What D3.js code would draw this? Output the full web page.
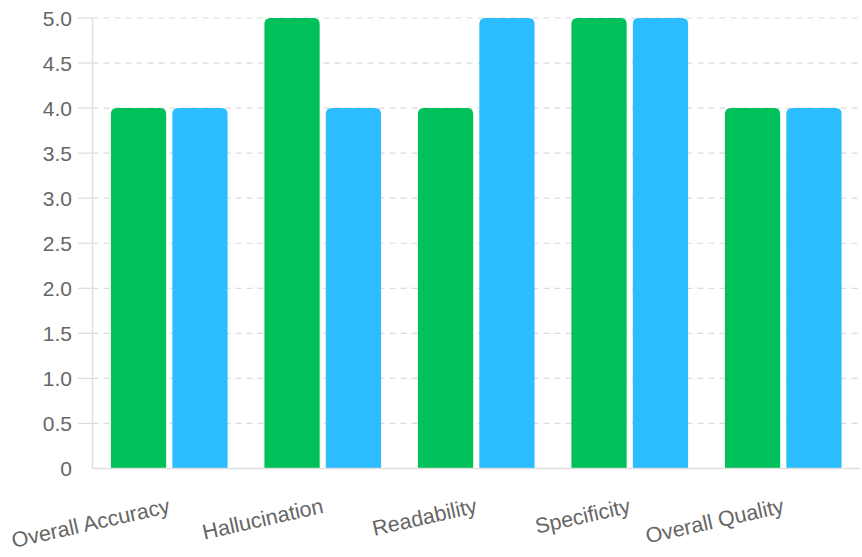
<!DOCTYPE html>
<html><head><meta charset="utf-8">
<script src="https://cdn.jsdelivr.net/npm/d3@7"></script>
<style>body{margin:0;background:#fff}svg{display:block}text{font-family:"Liberation Sans",Arial,Helvetica,sans-serif}</style>
</head><body><svg id="c" width="862" height="557"></svg>
<script>
const categories = ["Overall Accuracy","Hallucination","Readability","Specificity","Overall Quality"];
const seriesA = [4,5,4,5,4];
const seriesB = [4,4,5,5,4];
const seriesNames = ["A","B"];
const colors = ["#00c159","#2bbdff"];
const yTicks = [0,0.5,1,1.5,2,2.5,3,3.5,4,4.5,5];

const svg = d3.select("#c");
const pL = 92.5, pR = 860, pT = 18, pB = 468.5;
const x = d3.scaleBand().domain(categories).range([pL,pR]).paddingInner(0).paddingOuter(0);
const y = d3.scaleLinear().domain([0,5]).range([pB,pT]);

// grid
const g = svg.append("g");
yTicks.forEach(t=>{
  if(t===0) return;
  const yy = y(t);
  g.append("line").attr("x1",pL).attr("x2",pR).attr("y1",yy).attr("y2",yy)
   .attr("stroke","#dcdcdc").attr("stroke-width",1.2).attr("stroke-dasharray","6,5");
  g.append("line").attr("x1",78).attr("x2",pL).attr("y1",yy).attr("y2",yy)
   .attr("stroke","#dcdcdc").attr("stroke-width",1.2);
});
// y labels
svg.append("g").selectAll("text").data(yTicks).join("text")
  .attr("x",72).attr("y",d=>y(d)).attr("dy","0.36em").attr("text-anchor","end")
  .attr("fill","#666").attr("font-size","21px").text(d=>d===0?"0":d.toFixed(1));

// bars
const catW = x.bandwidth(), groupW = catW*0.8, slot = groupW/2, bw = slot*0.9, r = 6;
function barPath(x0,w,yt,yb){
  return `M${x0},${yb}V${yt+r}Q${x0},${yt} ${x0+r},${yt}H${x0+w-r}Q${x0+w},${yt} ${x0+w},${yt+r}V${yb}Z`;
}
[seriesA,seriesB].forEach((s,si)=>{
  svg.append("g").selectAll("path").data(s).join("path")
    .attr("d",(d,i)=>{
      const cx = x(categories[i]) + (catW-groupW)/2 + si*slot + (slot-bw)/2;
      return barPath(cx,bw,y(d),y(0));
    })
    .attr("fill",colors[si]);
});

// axes lines
svg.append("line").attr("x1",pL).attr("x2",pL).attr("y1",pT).attr("y2",pB).attr("stroke","#e0e0e0").attr("stroke-width",1.5);
svg.append("line").attr("x1",pL).attr("x2",pR).attr("y1",pB).attr("y2",pB).attr("stroke","#e0e0e0").attr("stroke-width",1.5);

// x labels
svg.append("g").selectAll("text").data(categories).join("text")
  .attr("transform",d=>`translate(${x(d)+x.bandwidth()/2},505) rotate(-12.7)`)
  .attr("dy","0.36em").attr("text-anchor","end")
  .attr("fill","#666").attr("font-size","21.5px").text(d=>d);
</script></body></html>
